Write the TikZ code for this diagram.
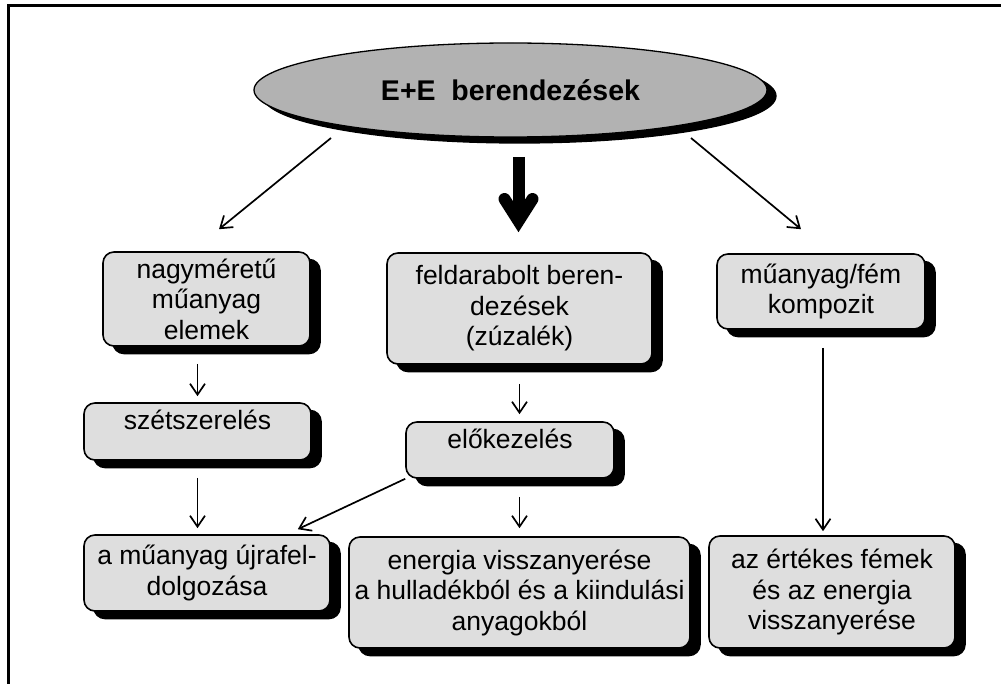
\documentclass[tikz,border=0pt]{standalone}
\usepackage{fontspec}
\setmainfont{Liberation Sans}
\usetikzlibrary{shadows,arrows.meta,calc,shapes.geometric}
\definecolor{boxgray}{HTML}{DEDEDE}
\definecolor{ellgray}{HTML}{B2B2B2}
\begin{document}
\begin{tikzpicture}[x=1pt,y=-1pt,
  box/.style={draw=black, line width=1.6pt, fill=boxgray, rounded corners=11pt,
    inner sep=0pt, align=center, font=\fontsize{26.5}{30.5}\selectfont,
    general shadow={fill=black, draw=black, shadow xshift=10pt, shadow yshift=-7.5pt}},
  ell/.style={ellipse, draw=black, line width=1.3pt, fill=ellgray, inner sep=0pt,
    minimum width=513pt, minimum height=94pt, font=\bfseries\fontsize{28.5}{34}\selectfont,
    general shadow={fill=black, draw=black, shadow xshift=9pt, shadow yshift=-6pt}},
  arr/.style={line width=1.7pt, -{Straight Barb[length=11pt,width=15pt]}},
  bigarr/.style={line width=12pt, -{Straight Barb[length=22pt,width=28pt,line cap=round,line join=miter]}}
]
\useasboundingbox (0,0) rectangle (1001,684);
\fill[white] (0,0) rectangle (1001,684);
\draw[line width=2.5pt] (8.5,684) -- (8.5,5.5) -- (1001,5.5);

\node[ell] (E) at (510.5,90) {E+E\ \ berendezések};

\node[box, minimum width=207pt, minimum height=94pt] (nagy) at (206.5,299) {nagyméretű\\műanyag\\elemek};
\node[box, minimum width=227pt, minimum height=57pt, text height=12pt, text depth=16pt] (szet) at (197.5,431.5) {szétszerelés};
\node[box, minimum width=246pt, minimum height=76pt] (ujra) at (207,573) {a műanyag újrafel-\\dolgozása};
\node[box, minimum width=265pt, minimum height=111pt] (feld) at (519.5,308.5) {feldarabolt beren-\\dezések\\(zúzalék)};
\node[box, minimum width=208pt, minimum height=56pt, text height=12pt, text depth=16pt] (elo) at (510,450) {előkezelés};
\node[box, minimum width=341pt, minimum height=111pt] (ener) at (519.5,592.5) {energia visszanyerése\\a hulladékból és a kiindulási\\anyagokból};
\node[box, minimum width=208pt, minimum height=75pt] (komp) at (821,291.5) {műanyag/fém\\kompozit};
\node[box, minimum width=246pt, minimum height=112pt] (ert) at (832,592) {az értékes fémek\\és az energia\\visszanyerése};

\draw[arr] ($(E.center)+(-179.5,48)$) -- ($(nagy.north)+(12.5,-22)$);
\draw[arr] ($(E.center)+(180.5,48)$) -- ($(komp.north)+(-20,-24)$);
\draw[bigarr] ($(E.center)+(8,67)$) -- ($(feld.north)+(-1,-20)$);

\draw[arr] ($(nagy.south -| szet.north)+(0,17)$) -- ($(szet.north)+(0,-6)$);
\draw[arr] ($(szet.south)+(0,17)$) -- ($(szet.south |- ujra.north)+(0,-6)$);
\draw[arr] (elo.south west) -- ($(ujra.north east)+(-33,-5)$);
\draw[arr] ($(feld.south)+(0,19)$) -- ($(feld.south |- elo.north)+(0,-7)$);
\draw[arr] ($(ener.north |- elo.south)+(0,18)$) -- ($(ener.north)+(0,-8)$);
\draw[arr] ($(komp.south)+(2,18)$) -- ($(komp.south |- ert.north)+(2,-4)$);
\end{tikzpicture}
\end{document}
